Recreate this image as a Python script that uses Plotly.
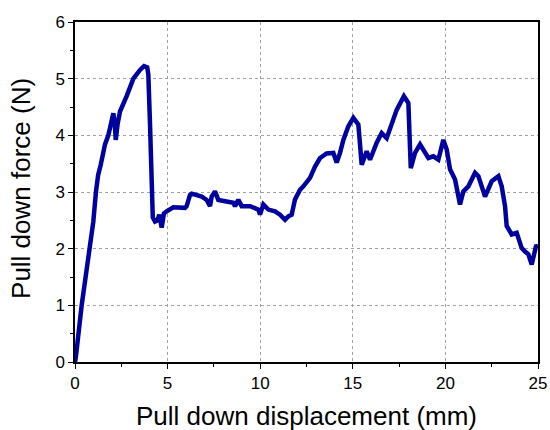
import plotly.graph_objects as go

displacement_mm = [
    0.0, 0.05, 0.36, 0.6, 0.81, 0.99, 1.13, 1.25, 1.39, 1.62,
    1.8, 2.07, 2.15, 2.2, 2.3, 2.43, 2.8, 3.15, 3.5, 3.73,
    3.9, 3.96, 4.05, 4.14, 4.2, 4.32, 4.45, 4.55, 4.68, 4.8,
    4.95, 5.31, 5.7, 5.94, 6.03, 6.21, 6.3, 6.84, 7.11, 7.29,
    7.38, 7.56, 7.74, 8.19, 8.55, 8.64, 8.82, 9.0, 9.45, 9.9,
    9.99, 10.17, 10.44, 10.8, 11.07, 11.34, 11.52, 11.7, 11.88, 12.15,
    12.33, 12.69, 12.96, 13.23, 13.59, 13.95, 14.13, 14.31, 14.49, 14.76,
    15.03, 15.3, 15.48, 15.75, 15.93, 16.29, 16.56, 16.83, 17.01, 17.37,
    17.76, 18.0, 18.13, 18.36, 18.63, 19.08, 19.35, 19.62, 19.89, 20.07,
    20.25, 20.52, 20.79, 20.97, 21.24, 21.6, 21.78, 22.14, 22.5, 22.86,
    23.04, 23.22, 23.31, 23.58, 23.85, 23.99, 24.12, 24.3, 24.48, 24.66,
    24.78, 24.89, 25.0,
]
force_N = [
    0.0, 0.1, 1.0, 1.55, 2.0, 2.48, 3.0, 3.3, 3.48, 3.84,
    4.0, 4.39, 4.2, 3.92, 4.2, 4.42, 4.7, 5.0, 5.15, 5.22,
    5.2, 5.07, 4.2, 2.72, 2.55, 2.48, 2.5, 2.6, 2.37, 2.62,
    2.66, 2.73, 2.72, 2.72, 2.75, 2.95, 2.97, 2.92, 2.86, 2.75,
    2.92, 3.01, 2.86, 2.84, 2.81, 2.75, 2.86, 2.75, 2.75, 2.69,
    2.6, 2.78, 2.69, 2.66, 2.6, 2.51, 2.57, 2.6, 2.87, 3.04,
    3.1, 3.25, 3.45, 3.6, 3.68, 3.69, 3.52, 3.69, 3.92, 4.16,
    4.31, 4.19, 3.48, 3.72, 3.57, 3.87, 4.04, 3.95, 4.1, 4.45,
    4.69, 4.57, 3.42, 3.69, 3.84, 3.6, 3.63, 3.57, 3.92, 3.75,
    3.4, 3.22, 2.78, 3.01, 3.1, 3.34, 3.28, 2.92, 3.19, 3.28,
    3.1, 2.75, 2.4, 2.25, 2.28, 2.1, 2.01, 1.95, 1.9, 1.72,
    1.93, 2.04, 2.05,
]

x_ticks = [0, 5, 10, 15, 20, 25]
y_ticks = [0, 1, 2, 3, 4, 5, 6]
x_title = "Pull down displacement (mm)"
y_title = "Pull down force (N)"

FONT = "Liberation Sans, Arial, sans-serif"

fig = go.Figure()
fig.add_trace(go.Scatter(
    x=displacement_mm, y=force_N, mode="lines",
    line=dict(color="#00009f", width=4.5),
    showlegend=False,
))

axis_common = dict(
    showline=True, linecolor="black", linewidth=1.5, mirror=True,
    ticks="outside", ticklen=5, tickwidth=1.3, tickcolor="black",
    showgrid=True, gridcolor="#a0a0a0", griddash="dot", gridwidth=1,
    zeroline=False, automargin=False,
    tickfont=dict(family=FONT, size=17, color="black"),
)

fig.update_xaxes(
    range=[0, 25], tickvals=x_ticks, ticktext=[str(v) for v in x_ticks],
    minor=dict(ticks="outside", ticklen=3, dtick=2.5, tick0=0, tickcolor="black", showgrid=False),
    **axis_common,
)
fig.update_yaxes(
    range=[0, 6], tickvals=y_ticks, ticktext=[str(v) for v in y_ticks],
    minor=dict(ticks="outside", ticklen=3, dtick=0.5, tick0=0, tickcolor="black", showgrid=False),
    **axis_common,
)

fig.add_annotation(
    text=x_title, xref="paper", yref="paper", x=0.5, y=-0.16,
    xanchor="center", yanchor="middle", showarrow=False,
    font=dict(family=FONT, size=26, color="black"),
)
fig.add_annotation(
    text=y_title, xref="paper", yref="paper", x=-0.118, y=0.51,
    xanchor="center", yanchor="middle", showarrow=False, textangle=-90,
    font=dict(family=FONT, size=26, color="black"),
)

fig.update_layout(
    width=550, height=430,
    margin=dict(l=75, r=12, t=22, b=68),
    plot_bgcolor="white", paper_bgcolor="white",
)

fig.write_html(
    "out.html",
    config={"displayModeBar": False},
    post_script="document.body.style.margin='0';document.body.style.padding='0';document.body.style.overflow='hidden';",
)
